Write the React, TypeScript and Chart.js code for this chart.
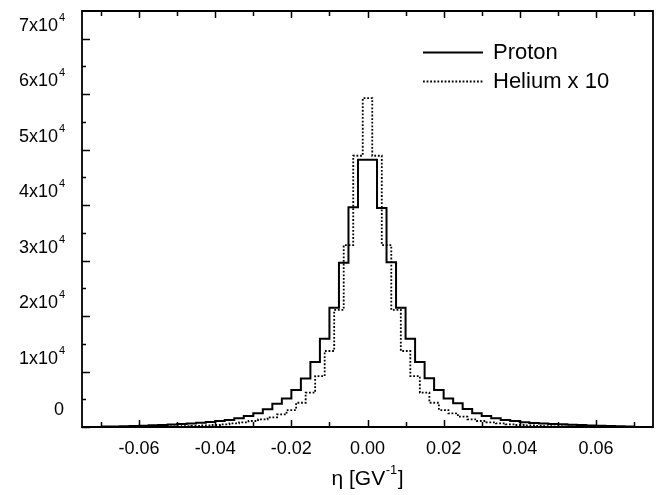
import React, { useEffect, useRef } from "react";
import { Chart, registerables } from "chart.js";

Chart.register(...registerables);

const FONT = "'Liberation Sans', Arial, Helvetica, sans-serif";

// histogram binning
const BIN_WIDTH = 0.0025;
const PROTON_START = -0.07;
const HELIUM_START = -0.06125;

// proton counts, left to right (56 bins from -0.07 to 0.07)
const protonCounts = [
  80, 110, 150, 190, 240, 300, 370, 450, 540, 640, 760, 900, 1080, 1260,
  1570, 1980, 2460, 3200, 4200, 5160, 6660, 8760, 11700, 15900, 21500, 29600, 39600, 48200,
  48200, 39500, 29700, 21500, 15900, 11700, 8800, 6660, 5160, 4260, 3240, 2460, 1980, 1570,
  1260, 1080, 850, 700, 650, 560, 500, 420, 340, 280, 220, 170, 130, 90,
];

// helium x 10 counts, left to right (49 bins centred on -0.06 ... 0.06)
const heliumCounts = [
  30, 45, 65, 90, 120, 160, 210, 280, 360, 490, 670, 850, 1080, 1380, 1740, 2280, 3060, 4370,
  6180, 9180, 13700, 21100, 32800, 48900,
  59300,
  48900, 32800, 21100, 13700, 9180, 6180, 4370, 3060, 2460, 1860, 1380, 1080, 850, 670, 490,
  360, 280, 210, 160, 120, 90, 65, 45, 30,
];

const seriesLabels = ["Proton", "Helium x 10"];

const xMajorTicks = [-0.06, -0.04, -0.02, 0, 0.02, 0.04, 0.06];
const xTickLabels = ["-0.06", "-0.04", "-0.02", "0.00", "0.02", "0.04", "0.06"];
const xMinorTicks = [-0.07, -0.05, -0.03, -0.01, 0.01, 0.03, 0.05, 0.07];

const yMajorTicks = [0, 10000, 20000, 30000, 40000, 50000, 60000, 70000];
const yTickBase = ["0", "1x10", "2x10", "3x10", "4x10", "5x10", "6x10", "7x10"];
const yTickExp = ["", "4", "4", "4", "4", "4", "4", "4"];
const yMinorTicks = [5000, 15000, 25000, 35000, 45000, 55000, 65000];

const X_MIN = -0.075;
const X_MAX = 0.075;
const Y_MIN = 0;
const Y_MAX = 75000;

function stepPoints(start: number, counts: number[]) {
  const pts = counts.map((c, i) => ({ x: start + i * BIN_WIDTH, y: c }));
  pts.push({ x: start + counts.length * BIN_WIDTH, y: counts[counts.length - 1] });
  return pts;
}

const decorPlugin = {
  id: "decor",
  afterDraw(chart: any) {
    const ctx = chart.ctx as CanvasRenderingContext2D;
    const { left, right, top, bottom } = chart.chartArea;
    const xs = chart.scales.x;
    const ys = chart.scales.y;
    ctx.save();
    ctx.strokeStyle = "#000";
    ctx.fillStyle = "#000";

    // frame
    ctx.lineWidth = 1.8;
    ctx.beginPath();
    ctx.moveTo(left, top);
    ctx.lineTo(right, top);
    ctx.lineTo(right, bottom);
    ctx.lineTo(left, bottom);
    ctx.closePath();
    ctx.stroke();

    // ticks (inward)
    ctx.lineWidth = 1.5;
    ctx.beginPath();
    xMajorTicks.forEach((v) => {
      const p = Math.round(xs.getPixelForValue(v)) + 0.5;
      ctx.moveTo(p, bottom);
      ctx.lineTo(p, bottom - 7);
      ctx.moveTo(p, top);
      ctx.lineTo(p, top + 7);
    });
    xMinorTicks.forEach((v) => {
      const p = Math.round(xs.getPixelForValue(v)) + 0.5;
      ctx.moveTo(p, bottom);
      ctx.lineTo(p, bottom - 5);
      ctx.moveTo(p, top);
      ctx.lineTo(p, top + 5);
    });
    yMajorTicks.forEach((v) => {
      const p = Math.round(ys.getPixelForValue(v)) + 0.5;
      ctx.moveTo(left, p);
      ctx.lineTo(left + 8, p);
    });
    yMinorTicks.forEach((v) => {
      const p = Math.round(ys.getPixelForValue(v)) + 0.5;
      ctx.moveTo(left, p);
      ctx.lineTo(left + 4, p);
    });
    ctx.stroke();

    // y labels with superscript exponent
    yMajorTicks.forEach((v, i) => {
      const p = ys.getPixelForValue(v) - (i === 0 ? 17 : 13);
      ctx.font = `18px ${FONT}`;
      ctx.textAlign = "right";
      ctx.textBaseline = "middle";
      const baseRight = yTickExp[i] ? 58 : 64;
      ctx.fillText(yTickBase[i], baseRight, p);
      if (yTickExp[i]) {
        ctx.font = `11px ${FONT}`;
        ctx.textAlign = "left";
        ctx.fillText(yTickExp[i], baseRight + 1, p - 8);
      }
    });

    // x axis title: η [GV^-1]
    const tY = 479;
    const cx = (left + right) / 2;
    ctx.textBaseline = "middle";
    ctx.textAlign = "left";
    ctx.font = `21px ${FONT}`;
    const a = "η [GV";
    const c = "]";
    const wa = ctx.measureText(a).width;
    const wc = ctx.measureText(c).width;
    ctx.font = `13px ${FONT}`;
    const b = "-1";
    const wb = ctx.measureText(b).width;
    const total = wa + wb + wc + 1;
    const x0 = cx - total / 2;
    ctx.font = `21px ${FONT}`;
    ctx.fillText(a, x0, tY);
    ctx.font = `13px ${FONT}`;
    ctx.fillText(b, x0 + wa + 0.5, tY - 9);
    ctx.font = `21px ${FONT}`;
    ctx.fillText(c, x0 + wa + wb + 1, tY);

    // legend
    const legY = [52, 81];
    const dashes = [[], [1.8, 1.8]];
    legY.forEach((ly, i) => {
      ctx.lineWidth = i === 0 ? 2 : 1.8;
      ctx.setLineDash(dashes[i]);
      ctx.beginPath();
      ctx.moveTo(423, ly + 0.5);
      ctx.lineTo(483, ly + 0.5);
      ctx.stroke();
      ctx.setLineDash([]);
      ctx.font = `22px ${FONT}`;
      ctx.textAlign = "left";
      ctx.textBaseline = "middle";
      ctx.fillText(seriesLabels[i], 493, ly + 1);
    });

    ctx.restore();
  },
};

export default function App() {
  const ref = useRef<HTMLCanvasElement | null>(null);
  useEffect(() => {
    if (!ref.current) return;
    const chart = new Chart(ref.current, {
      type: "line",
      data: {
        datasets: [
          {
            label: seriesLabels[0],
            data: stepPoints(PROTON_START, protonCounts),
            stepped: "before",
            borderColor: "#000",
            borderWidth: 2,
            pointRadius: 0,
            fill: false,
          },
          {
            label: seriesLabels[1],
            data: stepPoints(HELIUM_START, heliumCounts),
            stepped: "before",
            borderColor: "#000",
            borderWidth: 1.8,
            borderDash: [1.8, 1.8],
            pointRadius: 0,
            fill: false,
          },
        ],
      },
      options: {
        responsive: false,
        animation: false,
        events: [],
        layout: { padding: { left: 0, right: 9, top: 11, bottom: 0 } },
        plugins: { legend: { display: false }, tooltip: { enabled: false }, title: { display: false } },
        scales: {
          x: {
            type: "linear",
            min: X_MIN,
            max: X_MAX,
            grid: { display: false, drawTicks: false },
            border: { display: false },
            afterBuildTicks: (s: any) => {
              s.ticks = xMajorTicks.map((v) => ({ value: v }));
            },
            afterFit: (s: any) => {
              s.height = 68;
            },
            ticks: {
              autoSkip: false,
              maxRotation: 0,
              padding: 11,
              color: "#000",
              font: { family: FONT, size: 18 },
              callback: (_v: any, i: number) => xTickLabels[i],
            },
          },
          y: {
            type: "linear",
            min: Y_MIN,
            max: Y_MAX,
            grid: { display: false, drawTicks: false },
            border: { display: false },
            afterBuildTicks: (s: any) => {
              s.ticks = yMajorTicks.map((v) => ({ value: v }));
            },
            afterFit: (s: any) => {
              s.width = 82;
            },
            ticks: { display: false },
          },
        },
      },
      plugins: [decorPlugin],
    } as any);
    return () => chart.destroy();
  }, []);
  return (
    <div style={{ position: "absolute", left: 0, top: 0, width: 662, height: 495, background: "#fff" }}>
      <canvas ref={ref} width={662} height={495} style={{ display: "block" }} />
    </div>
  );
}
